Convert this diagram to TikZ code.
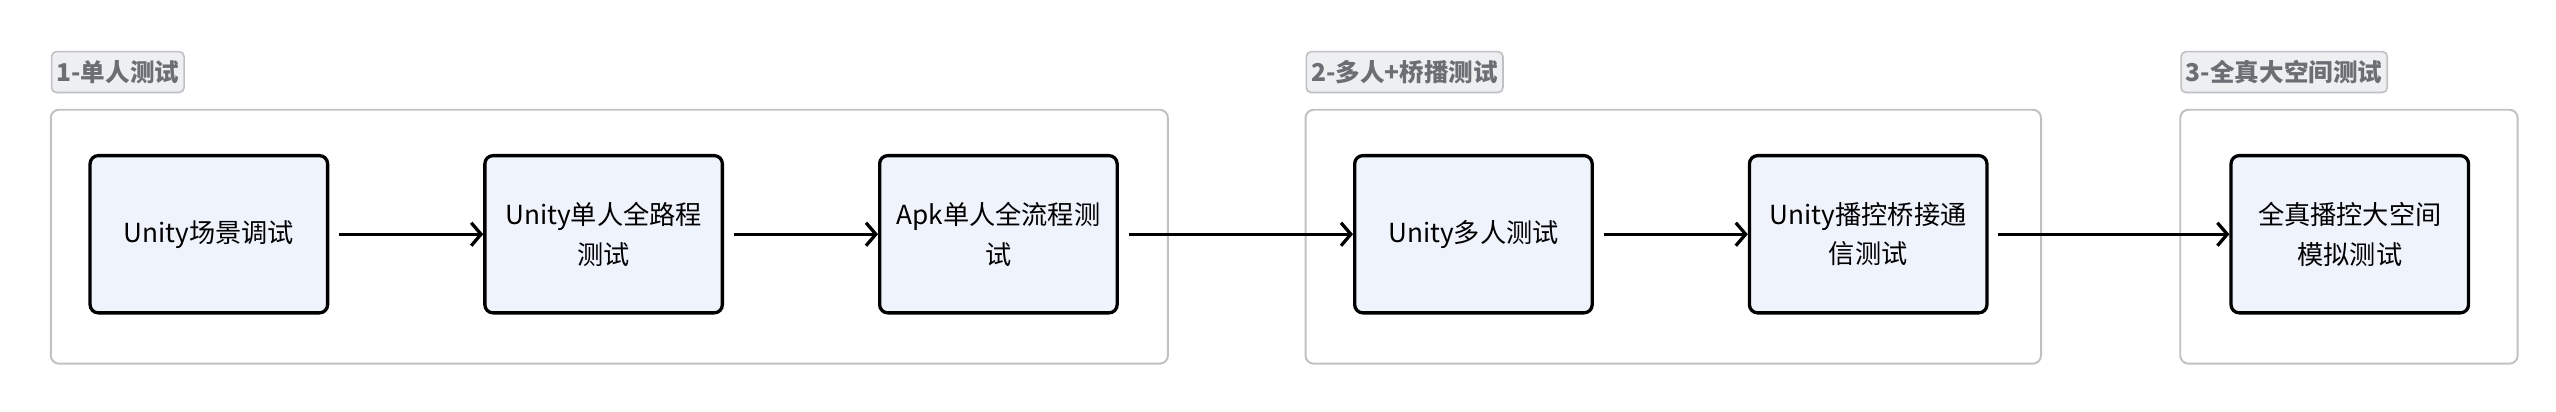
\documentclass[tikz,border=0pt]{standalone}
\usepackage{fontspec}
\setmainfont{Noto Sans CJK SC}
\usetikzlibrary{arrows.meta,positioning}
\definecolor{stepfill}{HTML}{EFF3FC}
\definecolor{grpline}{HTML}{BFC1C4}
\definecolor{tagfill}{HTML}{EEEFF1}
\definecolor{tagtext}{HTML}{6B6E73}

\tikzset{testbox/.style={draw=black,line width=2pt,fill=stepfill,rounded corners=5pt,
           minimum width=145pt,minimum height=96pt,align=center,font=\fontsize{16}{24}\selectfont},
         grp/.style={draw=grpline,line width=1.2pt,rounded corners=5pt},
         tag/.style={draw=grpline,line width=1pt,fill=tagfill,rounded corners=3pt,text=tagtext,
           inner sep=3pt,anchor=north west,minimum height=25pt,font=\fontsize{15}{18}\selectfont\bfseries},
         flow/.style={-{Straight Barb[length=6pt,width=14pt]},line width=2pt,shorten <=6pt}}

\begin{document}
\begin{tikzpicture}[x=1pt,y=-1pt]
\useasboundingbox (0,0) rectangle (1560.4,251.5);
% groups
\draw[grp] (31,67) rectangle (713,222);
\draw[grp] (797,67) rectangle (1246,222);
\draw[grp] (1331,67) rectangle (1537,222);
\node[tag] (t1) at (31,31) {1-单人测试};
\node[tag] (t2) at (797,31) {2-多人+桥播测试};
\node[tag] (t3) at (1331,31) {3-全真大空间测试};
% steps
\node[testbox] (s1) at (127.5,143) {Unity场景调试};
\node[testbox] (s2) at (368.5,143) {Unity单人全路程\\测试};
\node[testbox] (s3) at (609.5,143) {Apk单人全流程测\\试};
\node[testbox] (s4) at (899.5,143) {Unity多人测试};
\node[testbox] (s5) at (1140.5,143) {Unity播控桥接通\\信测试};
\node[testbox] (s6) at (1434.5,143) {全真播控大空间\\模拟测试};
% flow
\draw[flow] (s1) -- (s2);
\draw[flow] (s2) -- (s3);
\draw[flow] (s3) -- (s4);
\draw[flow] (s4) -- (s5);
\draw[flow] (s5) -- (s6);
\end{tikzpicture}
\end{document}
